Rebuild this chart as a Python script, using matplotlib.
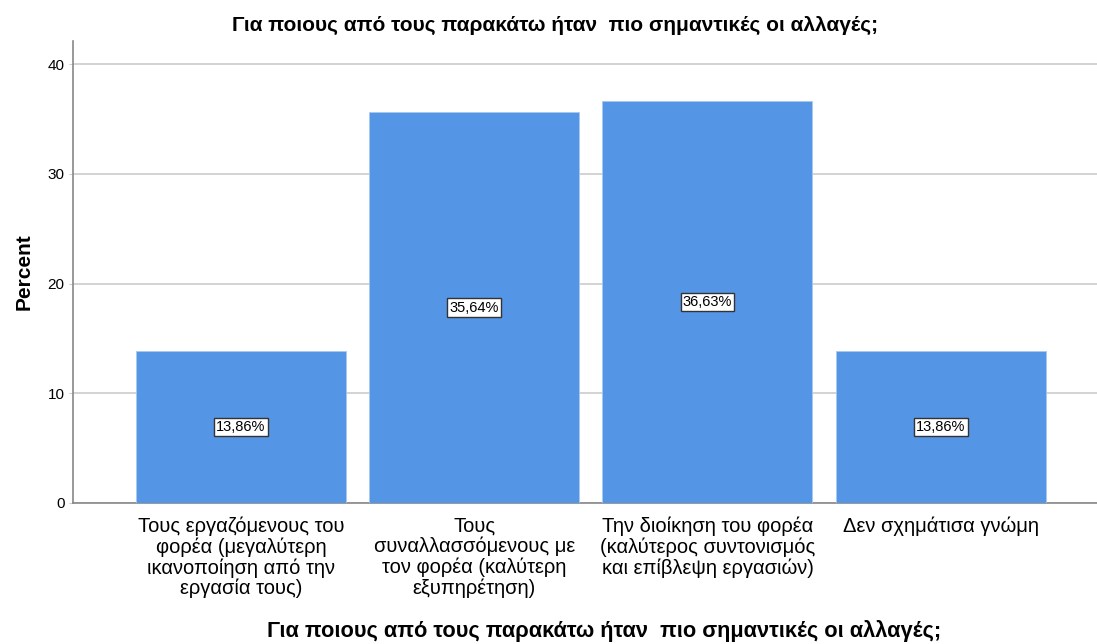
import matplotlib
matplotlib.use("Agg")
import matplotlib.pyplot as plt
import numpy as np

plt.rcParams['font.family'] = ['Liberation Sans', 'DejaVu Sans']

# data
categories = [
    "Τους εργαζόμενους του\nφορέα (μεγαλύτερη\nικανοποίηση από την\nεργασία τους)",
    "Τους\nσυναλλασσόμενους με\nτον φορέα (καλύτερη\nεξυπηρέτηση)",
    "Την διοίκηση του φορέα\n(καλύτερος συντονισμός\nκαι επίβλεψη εργασιών)",
    "Δεν σχημάτισα γνώμη",
]
percents = [13.86, 35.64, 36.63, 13.86]
y_ticks = [0, 10, 20, 30, 40]

title = "Για ποιους από τους παρακάτω ήταν  πιο σημαντικές οι αλλαγές;"

fig = plt.figure(figsize=(10.97, 6.44), dpi=100)
ax = fig.add_axes([0.0665, 0.219, 0.9335, 0.717])

ind = np.arange(len(categories))
ax.bar(ind, percents, 0.9, color='#5595e5', edgecolor='#a9c8f0', linewidth=0.6, zorder=3)

for i in range(len(percents)):
    ax.text(i, percents[i] / 2, "{:.2f}%".format(percents[i]).replace('.', ','),
            ha='center', va='center', fontsize=10.5, zorder=4,
            bbox=dict(boxstyle='square,pad=0.15', facecolor='white', edgecolor='#333333', linewidth=1.0))

ax.set_xlim(-0.72, 3.67)
ax.set_ylim(0, 42.1)
ax.set_yticks(y_ticks)
ax.set_yticklabels([str(t) for t in y_ticks], fontsize=11)
ax.yaxis.grid(True, color='#cccccc', linewidth=1.2, zorder=0)
ax.tick_params(axis='y', length=3, color='#cccccc', pad=3)
ax.set_xticks(ind)
ax.set_xticklabels(categories, fontsize=14.5, linespacing=1.07)
ax.tick_params(axis='x', length=0, pad=10)

for side in ['top', 'right']:
    ax.spines[side].set_visible(False)
ax.spines['left'].set_color('#888888')
ax.spines['bottom'].set_color('#888888')
ax.spines['left'].set_linewidth(1.2)
ax.spines['bottom'].set_linewidth(1.2)

ax.set_ylabel("Percent", fontsize=15, fontweight='bold', labelpad=10)
fig.text(0.506, 0.96, title, ha='center', va='center', fontsize=15, fontweight='bold')
fig.text(0.551, 0.02, title, ha='center', va='center', fontsize=15.7, fontweight='bold')

fig.savefig("out.png", dpi=100)
